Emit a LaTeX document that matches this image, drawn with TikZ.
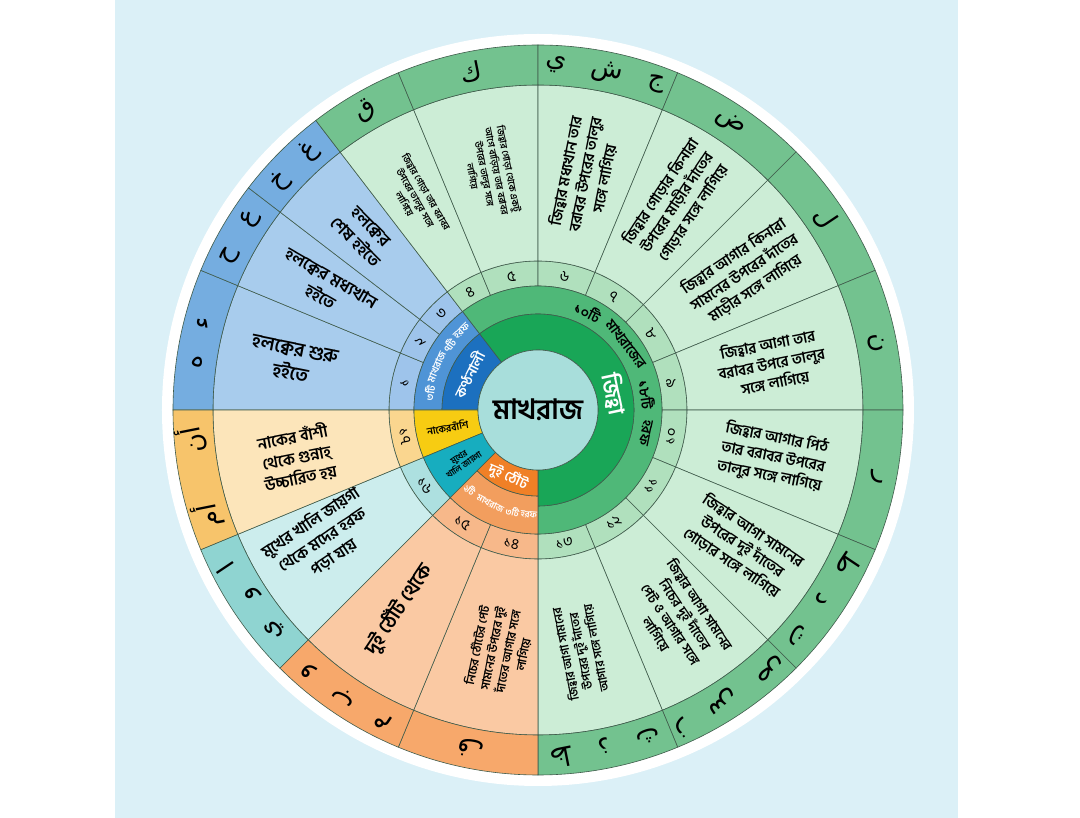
\documentclass[tikz,border=0pt]{standalone}
\usepackage{fontspec}
\usepackage{tikz}
\newfontfamily\bn[Script=Bengali]{Hind Siliguri}
\newfontfamily\arfont[Script=Arabic]{DejaVu Sans}
\TeXXeTstate=1
\definecolor{nen}{rgb}{0.86,0.94,0.97}
\definecolor{vien}{rgb}{0.25,0.36,0.30}
\definecolor{tamtron}{rgb}{0.66,0.87,0.86}
\definecolor{lamA}{rgb}{0.46,0.68,0.88}
\definecolor{lamB}{rgb}{0.66,0.80,0.93}
\definecolor{lamC}{rgb}{0.62,0.77,0.92}
\definecolor{lamD}{rgb}{0.31,0.58,0.84}
\definecolor{lamE}{rgb}{0.11,0.44,0.75}
\definecolor{lucA}{rgb}{0.45,0.76,0.56}
\definecolor{lucB}{rgb}{0.80,0.93,0.84}
\definecolor{lucC}{rgb}{0.69,0.88,0.74}
\definecolor{lucD}{rgb}{0.31,0.72,0.47}
\definecolor{lucE}{rgb}{0.10,0.65,0.34}
\definecolor{camA}{rgb}{0.97,0.66,0.42}
\definecolor{camB}{rgb}{0.98,0.79,0.64}
\definecolor{camC}{rgb}{0.97,0.72,0.54}
\definecolor{camD}{rgb}{0.95,0.62,0.37}
\definecolor{camE}{rgb}{0.94,0.50,0.15}
\definecolor{vangA}{rgb}{0.97,0.77,0.42}
\definecolor{vangB}{rgb}{0.99,0.90,0.73}
\definecolor{vangC}{rgb}{0.98,0.84,0.56}
\definecolor{vangE}{rgb}{0.97,0.80,0.07}
\definecolor{ngocA}{rgb}{0.56,0.83,0.82}
\definecolor{ngocB}{rgb}{0.80,0.93,0.93}
\definecolor{ngocC}{rgb}{0.68,0.88,0.88}
\definecolor{ngocE}{rgb}{0.09,0.68,0.75}
% hình quạt: góc 1, góc 2, bán kính trong, bán kính ngoài, màu
\newcommand{\hinhquat}[5]{%
  \filldraw[fill=#5,draw=vien,line width=0.6pt] (#1:#3pt)
    arc[start angle=#1,end angle=#2,radius=#3pt] -- (#2:#4pt)
    arc[start angle=#2,end angle=#1,radius=#4pt] -- cycle;}
\newcommand{\arb}[1]{{\arfont\beginR #1\endR}}

\begin{document}
\begin{tikzpicture}[x=1pt,y=1pt,
    chu/.style={align=center,inner sep=1pt,font=\bn\bfseries\linespread{1.3}\fontsize{#1}{#1}\selectfont},
    so/.style={inner sep=0pt,font=\bn\fontsize{15}{15}\selectfont},
    harf/.style={inner sep=0pt,font=\arfont\fontsize{26}{26}\selectfont},
    trang/.style={text=white}]
    % Nền
    \useasboundingbox (-538,-408) rectangle (542,410);
    \fill[nen] (-423,-408) rectangle (420,410);
    \fill[white] (0,0) circle[radius=376pt];
    % 17 mục: vòng số, vòng chữ, vòng chữ Ả Rập
    \foreach \i/\a/\b/\mau/\so/\harf in {
        1/157.5/180/lam/১/{ء\quad ه}, 2/142.5/157.5/lam/২/{ع\quad ح},
        3/127.5/142.5/lam/৩/{غ\quad خ}, 4/112.5/127.5/luc/৪/{ق},
        5/90/112.5/luc/৫/{ك}, 6/67.5/90/luc/৬/{ج\quad ش\quad ي},
        7/45/67.5/luc/৭/{ض}, 8/22.5/45/luc/৮/{ل}, 9/0/22.5/luc/৯/{ن},
        10/-22.5/0/luc/১০/{ر}, 11/-45/-22.5/luc/১১/{ت\quad د\quad ط},
        12/-67.5/-45/luc/১২/{ز\quad س\quad ص}, 13/-90/-67.5/luc/১৩/{ظ\quad ذ\quad ث},
        14/-112.5/-90/cam/১৪/{ف}, 15/-135/-112.5/cam/১৫/{و\quad ب\quad م},
        16/-157.5/-135/ngoc/১৬/{ا\quad و\quad ي}, 17/-180/-157.5/vang/১৭/{أن\qquad أم}}{
        \pgfmathsetmacro\m{(\a+\b)/2}
        \pgfmathsetmacro\rs{\m>0 ? \m-90 : \m+90}
        \hinhquat{\a}{\b}{124}{149}{\mau C}
        \hinhquat{\a}{\b}{149}{325}{\mau B}
        \hinhquat{\a}{\b}{325}{365}{\mau A}
        \node[so,rotate=\rs] (so\i) at (\m:136pt) {\so};
        \node[harf,rotate=\m-90] (harf\i) at (\m:345pt) {\arb{\harf}};
    }
    % Vòng trong
    \hinhquat{-90}{127.5}{96}{124}{lucD}
    \hinhquat{-90}{127.5}{60}{96}{lucE}
    \hinhquat{127.5}{180}{96}{124}{lamD}
    \hinhquat{127.5}{180}{60}{96}{lamE}
    \hinhquat{180}{202.5}{60}{124}{vangE}
    \hinhquat{202.5}{225}{60}{124}{ngocE}
    \hinhquat{225}{270}{86}{124}{camD}
    \hinhquat{225}{270}{60}{86}{camE}
    \filldraw[fill=tamtron,draw=vien,line width=0.6pt] (0,0) circle[radius=60pt];
    \node[chu=28] (makhraj) at (0,0) {মাখরাজ};
    % Chữ vòng trong
    \node[chu=22,trang,rotate=-78] (jihba) at (12:78pt) {জিহ্বা};
    \node[chu=14,trang,rotate=63] (kontho) at (153:78pt) {কণ্ঠনালী};
    \node[chu=10,rotate=11] (nak) at (191:92pt) {নাকেরবাঁশি};
    \node[chu=8.5,rotate=34,inner sep=0pt] (mukh) at (214:92pt) {মুখের\\[-2pt]খালি জায়গা};
    \node[chu=14,trang,rotate=-24] (thot) at (246:73pt) {দুই ঠোঁট};
    \foreach \t/\g [count=\k] in {১০টি/63, মাখরাজের/37, ১৮টি/8, হরফ/-12}
        \node[chu=14,rotate=\g-90] (luc\k) at (\g:110pt) {\t};
    \foreach \t/\g [count=\k] in {৩টি/171, মাখরাজ/157, ৭টি/144, হরফ/134}
        \node[chu=10,trang,rotate=\g-90] (lam\k) at (\g:110pt) {\t};
    \foreach \t/\g [count=\k] in {২টি/229.5, মাখরাজ/243, ৩টি/256, হরফ/265}
        \node[chu=9,trang,rotate=\g+90] (cam\k) at (\g:105pt) {\t};
    % Chữ vòng giữa
    \node[chu=19,rotate=-11.25] (chu1) at (168.75:250pt) {হলক্বের শুরু\\হইতে};
    \node[chu=17,rotate=-30] (chu2) at (150:245pt) {হলক্বের মধ্যখান\\হইতে};
    \node[chu=17,rotate=-45] (chu3) at (135:248pt) {হলক্বের\\শেষ হইতে};
    \node[chu=9.5,rotate=-60] (chu4) at (120:245pt) {জিহ্বার গোড়া তার বরাবর\\উপরের তালুর সঙ্গে\\লাগিয়ে};
    \node[chu=9.5,rotate=-78.75] (chu5) at (101.25:242pt) {জিহ্বার গোড়া থেকে একটু\\আগে বাড়িয়ে তার বরাবর\\উপরের তালুর সঙ্গে\\লাগিয়ে};
    \node[chu=15,rotate=78.75] (chu6) at (78.75:240pt) {জিহ্বার মধ্যখান তার\\বরাবর উপরের তালুর\\সঙ্গে লাগিয়ে};
    \node[chu=15,rotate=56.25] (chu7) at (56.25:250pt) {জিহ্বার গোড়ার কিনারা\\উপরের মাড়ীর দাঁতের\\গোড়ার সঙ্গে লাগিয়ে};
    \node[chu=15,rotate=33.75] (chu8) at (33.75:248pt) {জিহ্বার আগার কিনারা\\সামনের উপরের দাঁতের\\মাড়ীর সঙ্গে লাগিয়ে};
    \node[chu=15,rotate=11.25] (chu9) at (11.25:238pt) {জিহ্বার আগা তার\\বরাবর উপরে তালুর\\সঙ্গে লাগিয়ে};
    \node[chu=15,rotate=-11.25] (chu10) at (-11.25:240pt) {জিহ্বার আগার পিঠ\\তার বরাবর উপরের\\তালুর সঙ্গে লাগিয়ে};
    \node[chu=15,rotate=-33.75] (chu11) at (-33.75:246pt) {জিহ্বার আগা সামনের\\উপরের দুই দাঁতের\\গোড়ার সঙ্গে লাগিয়ে};
    \node[chu=13.5,rotate=-56.25] (chu12) at (-56.25:252pt) {জিহ্বার আগা সামনের\\নিচের দুই দাঁতের\\পেট ও আগার সঙ্গে\\লাগিয়ে};
    \node[chu=12,rotate=101.25] (chu13) at (-80:245pt) {জিহ্বার আগা সামনের\\উপরের দুই দাঁতের\\আগার সঙ্গে লাগিয়ে};
    \node[chu=12,rotate=78.75] (chu14) at (-99:243pt) {নিচের ঠোঁটের পেট\\সামনের উপরের দুই\\দাঁতের আগার সঙ্গে\\লাগিয়ে};
    \node[chu=20,rotate=56.25] (chu15) at (-125:243pt) {দুই ঠোঁট থেকে};
    \node[chu=16,rotate=33.75] (chu16) at (-149:252pt) {মুখের খালি জায়গা\\থেকে মদের হরফ\\পড়া যায়};
    \node[chu=16,rotate=11.25] (chu17) at (-169:246pt) {নাকের বাঁশী\\থেকে গুন্নাহ্\\উচ্চারিত হয়};
\end{tikzpicture}
\end{document}
